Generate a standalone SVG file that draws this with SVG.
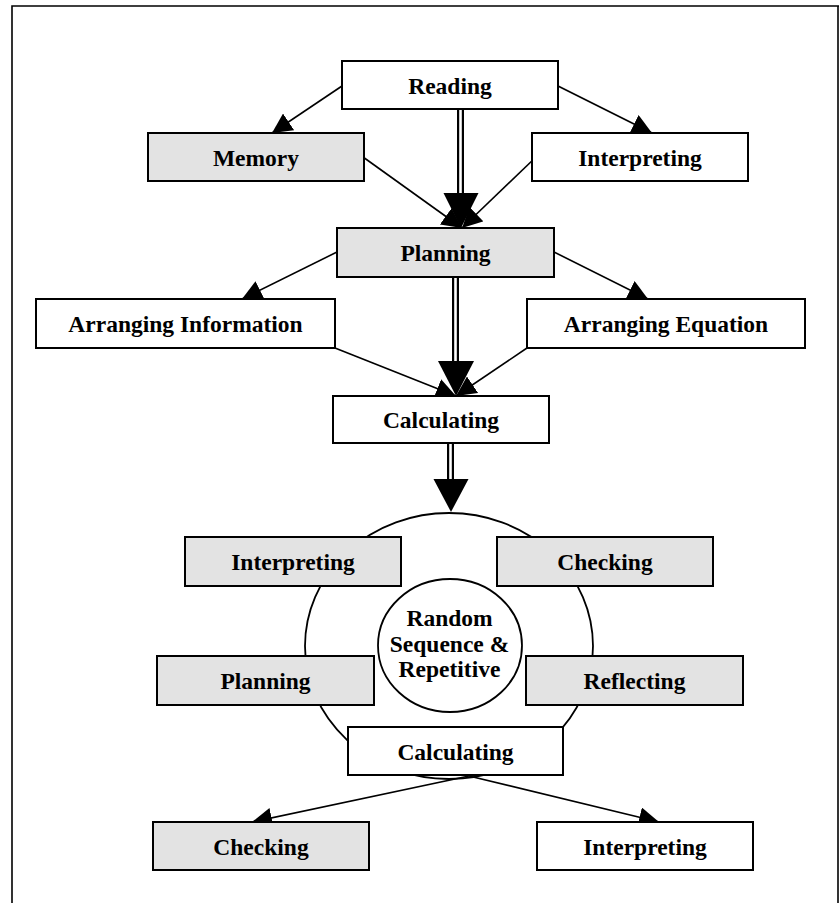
<svg xmlns="http://www.w3.org/2000/svg" width="839" height="903" viewBox="0 0 839 903">
<style>
.box{stroke:#000;stroke-width:2}
.w{fill:#fff}
.g{fill:#e3e3e3}
text{font-family:"Liberation Serif","Times New Roman",serif;font-weight:bold;font-size:23.5px;fill:#000;text-anchor:middle}
.ln{stroke:#000;stroke-width:1.6;fill:none}
.dbl{stroke:#000;stroke-width:7}
.dblw{stroke:#fff;stroke-width:2.6}
.ring{fill:#fff;stroke:#000;stroke-width:1.8}
</style>
<defs>
<marker id="ah" markerUnits="userSpaceOnUse" markerWidth="20" markerHeight="20" refX="20" refY="10" orient="auto">
<path d="M0,0 L20,10 L0,20 z" fill="#000"/>
</marker>
</defs>
<rect x="0" y="0" width="839" height="903" fill="#fff"/>
<g id="frame">
<path d="M12,903 V6 H839" fill="none" stroke="#000" stroke-width="1.6"/>
<line x1="838" y1="6" x2="838" y2="903" stroke="#000" stroke-width="1.6"/>
</g>
<g id="cycle">
<ellipse cx="449" cy="646" rx="144" ry="133" class="ring"/>
</g>
<g id="connectors">
<line class="ln" x1="342" y1="86" x2="272" y2="133" marker-end="url(#ah)"/>
<line class="ln" x1="558" y1="86" x2="652" y2="133" marker-end="url(#ah)"/>
<line class="ln" x1="363" y1="157" x2="462" y2="228" marker-end="url(#ah)"/>
<line class="ln" x1="536" y1="157" x2="462" y2="228" marker-end="url(#ah)"/>
<line class="ln" x1="337" y1="252" x2="242" y2="299" marker-end="url(#ah)"/>
<line class="ln" x1="554" y1="252" x2="648" y2="299" marker-end="url(#ah)"/>
<line class="ln" x1="335" y1="348" x2="456" y2="396" marker-end="url(#ah)"/>
<line class="ln" x1="527" y1="348" x2="456" y2="396" marker-end="url(#ah)"/>
<line class="ln" x1="469" y1="776" x2="252" y2="822" marker-end="url(#ah)"/>
<line class="ln" x1="469" y1="776" x2="659" y2="822" marker-end="url(#ah)"/>
<line class="dbl" x1="460.5" y1="109" x2="460.5" y2="194"/>
<line class="dblw" x1="460.5" y1="109" x2="460.5" y2="194"/>
<polygon points="443.5,193 478.5,193 461,228" fill="#000"/>
<line class="dbl" x1="455.5" y1="277" x2="455.5" y2="362"/>
<line class="dblw" x1="455.5" y1="277" x2="455.5" y2="362"/>
<polygon points="438,361 474,361 456,396" fill="#000"/>
<line class="dbl" x1="450.5" y1="443" x2="450.5" y2="480"/>
<line class="dblw" x1="450.5" y1="443" x2="450.5" y2="480"/>
<polygon points="433.5,479 468.5,479 451,512" fill="#000"/>
</g>
<g id="reading"><rect class="box w" x="342" y="61" width="216" height="48"/><text x="450" y="93.5">Reading</text></g>
<g id="memory"><rect class="box g" x="148" y="133" width="216" height="48"/><text x="256" y="165.5">Memory</text></g>
<g id="interpreting1"><rect class="box w" x="532" y="133" width="216" height="48"/><text x="640" y="165.5">Interpreting</text></g>
<g id="planning1"><rect class="box g" x="337" y="228" width="217" height="49"/><text x="445.5" y="261">Planning</text></g>
<g id="arranging-information"><rect class="box w" x="36" y="299" width="299" height="49"/><text x="185.5" y="332">Arranging Information</text></g>
<g id="arranging-equation"><rect class="box w" x="527" y="299" width="278" height="49"/><text x="666" y="332">Arranging Equation</text></g>
<g id="calculating1"><rect class="box w" x="333" y="396" width="216" height="47"/><text x="441" y="428">Calculating</text></g>
<g id="random"><ellipse cx="450" cy="645.5" rx="72" ry="66.5" class="ring"/>
<text x="449.5" y="626">Random</text><text x="449.5" y="651.5">Sequence &amp;</text><text x="449.5" y="677">Repetitive</text></g>
<g id="interpreting2"><rect class="box g" x="185" y="537" width="216" height="49"/><text x="293" y="570">Interpreting</text></g>
<g id="checking2"><rect class="box g" x="497" y="537" width="216" height="49"/><text x="605" y="570">Checking</text></g>
<g id="planning2"><rect class="box g" x="157" y="656" width="217" height="49"/><text x="265.5" y="689">Planning</text></g>
<g id="reflecting"><rect class="box g" x="526" y="656" width="217" height="49"/><text x="634.5" y="689">Reflecting</text></g>
<g id="calculating2"><rect class="box w" x="348" y="727" width="215" height="48"/><text x="455.5" y="759.5">Calculating</text></g>
<g id="checking3"><rect class="box g" x="153" y="822" width="216" height="48"/><text x="261" y="855">Checking</text></g>
<g id="interpreting3"><rect class="box w" x="537" y="822" width="216" height="48"/><text x="645" y="855">Interpreting</text></g>
</svg>
